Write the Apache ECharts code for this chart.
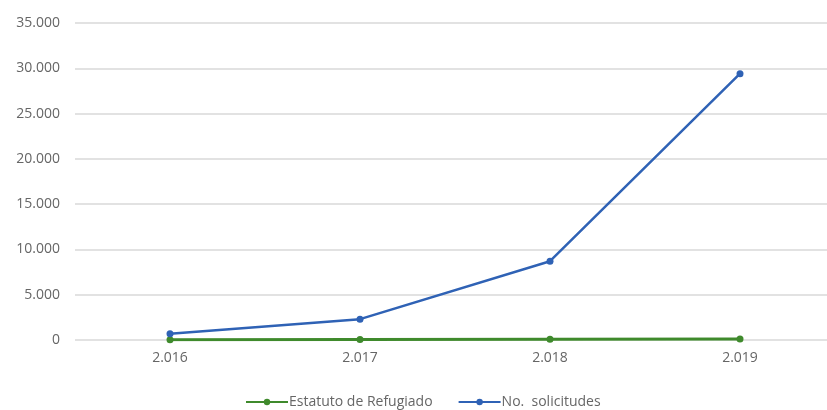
<!DOCTYPE html>
<html>
<head>
<meta charset="utf-8">
<script src="https://cdn.jsdelivr.net/npm/echarts@6/dist/echarts.min.js"></script>
<style>html,body{margin:0;padding:0;background:#fff;overflow:hidden;width:827px;height:410px}#c{width:835px;height:410px}</style>
</head>
<body>
<div id="c"></div>
<script>
const categories = ['2.016', '2.017', '2.018', '2.019'];
const estatutoRefugiado = [40, 60, 90, 110];
const solicitudes = [700, 2300, 8700, 29400];
const seriesNames = ['Estatuto de Refugiado', 'No.  solicitudes'];

const chart = echarts.init(document.getElementById('c'));
chart.setOption({
  animation: false,
  grid: { left: 75, right: 0, top: 23, bottom: 70 },
  legend: {
    top: 390,
    left: 240,
    itemWidth: 42,
    itemHeight: 8,
    itemGap: 25,
    textStyle: { color: '#666666', fontSize: 14, fontFamily: 'Open Sans', padding: [0, 0, 0, -4] },
    data: seriesNames
  },
  xAxis: {
    type: 'category',
    data: categories,
    axisLine: { show: false },
    axisTick: { show: false },
    axisLabel: { color: '#666666', fontSize: 14, margin: 11, fontFamily: 'Open Sans' }
  },
  yAxis: {
    type: 'value',
    min: 0,
    max: 35000,
    interval: 5000,
    axisLabel: {
      color: '#666666', fontSize: 14, margin: 15, fontFamily: 'Open Sans',
      formatter: v => v === 0 ? '0' : String(v).replace(/\B(?=(\d{3})+(?!\d))/g, '.')
    },
    splitLine: { lineStyle: { color: '#d9d9d9', width: 1.5 } }
  },
  series: [
    {
      name: seriesNames[0],
      type: 'line',
      data: estatutoRefugiado,
      symbol: 'circle',
      symbolSize: 7,
      lineStyle: { color: '#3f8a2c', width: 3 },
      itemStyle: { color: '#3f8a2c' }
    },
    {
      name: seriesNames[1],
      type: 'line',
      data: solicitudes,
      symbol: 'circle',
      symbolSize: 7,
      lineStyle: { color: '#2f62b5', width: 2.5 },
      itemStyle: { color: '#2f62b5' }
    }
  ]
});
</script>
</body>
</html>
